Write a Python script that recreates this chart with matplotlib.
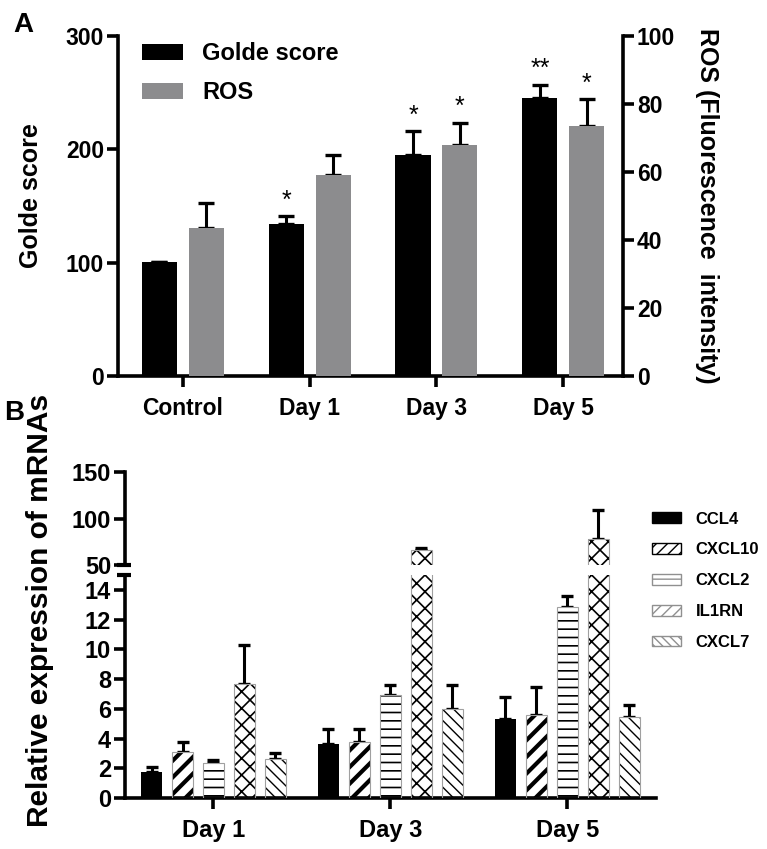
import numpy as np
import matplotlib
matplotlib.use('Agg')
from matplotlib import pyplot as plt
from matplotlib.patches import Patch

plt.rcParams['font.family'] = ['Liberation Sans', 'DejaVu Sans']
plt.rcParams['font.weight'] = 'bold'

# Panel A data
dias_a = ['Control', 'Day 1', 'Day 3', 'Day 5']
golde = [101, 134, 195, 245]
golde_err = [0, 7, 21, 12]
golde_sig = ['', '*', '*', '**']
ros = [43.5, 59, 68, 73.5]
ros_err = [7.5, 6, 6.5, 8]
ros_sig = ['', '', '*', '*']

# Panel B data
dias_b = ['Day 1', 'Day 3', 'Day 5']
genes = ['CCL4', 'CXCL10', 'CXCL2', 'IL1RN', 'CXCL7']
ccl4 = [1.75, 3.65, 5.3]
ccl4_err = [0.33, 0.97, 1.52]
cxcl10 = [3.1, 3.75, 5.6]
cxcl10_err = [0.67, 0.92, 1.86]
cxcl2 = [2.35, 6.95, 12.85]
cxcl2_err = [0.23, 0.65, 0.74]
il1rn = [7.65, 66, 78]
il1rn_err = [2.65, 2, 31]
cxcl7 = [2.6, 6.0, 5.45]
cxcl7_err = [0.45, 1.6, 0.78]

gris = '#8c8c8e'
lw_spine = 2.6

fig = plt.figure(figsize=(7.67, 8.49), dpi=100)

# ---------------- Panel A ----------------
ax = fig.add_axes([0.1538, 0.5571, 0.8123 - 0.1538, 0.4005])
ax2 = ax.twinx()
x = np.arange(len(dias_a))
w = 0.276
off = 0.185
ax.bar(x - off, golde, w, color='black', zorder=2)
ax.errorbar(x - off, golde, yerr=[np.zeros(4), golde_err], fmt='none', ecolor='black',
            elinewidth=2.2, capsize=6, capthick=2.4, zorder=1)
ax2.bar(x + off, ros, w, color=gris, zorder=2)
ax2.errorbar(x + off, ros, yerr=[np.zeros(4), ros_err], fmt='none', ecolor='black',
             elinewidth=2.2, capsize=6, capthick=2.4, zorder=1)
for i in range(4):
    if golde_sig[i]:
        ax.text(x[i] - off, golde[i] + golde_err[i] + 3, golde_sig[i], ha='center', va='bottom',
                fontsize=18, fontweight='normal')
    if ros_sig[i]:
        ax2.text(x[i] + off, ros[i] + ros_err[i] + 1, ros_sig[i], ha='center', va='bottom',
                 fontsize=18, fontweight='normal')

ax.set_xlim(-0.51, 3.47)
ax.set_ylim(0, 300)
ax2.set_ylim(0, 100)
ax.set_yticks([0, 100, 200, 300])
ax2.set_yticks([0, 20, 40, 60, 80, 100])
ax.set_xticks(x)
ax.set_xticklabels(dias_a, fontsize=17, fontweight='bold')
for a in (ax, ax2):
    a.spines['top'].set_visible(False)
    for s in ['left', 'right', 'bottom']:
        a.spines[s].set_linewidth(lw_spine)
    a.tick_params(width=lw_spine, length=8, labelsize=16.5, pad=2)
ax.spines['right'].set_visible(False)
ax2.spines['left'].set_visible(False)
ax2.spines['bottom'].set_visible(False)
ax.tick_params(axis='x', pad=7)
for t in ax.get_yticklabels() + ax2.get_yticklabels():
    t.set_fontweight('bold')
fig.text(0.040, 0.770, 'Golde score', rotation=90, fontsize=18, fontweight='bold',
         ha='center', va='center')
fig.text(0.922, 0.757, 'ROS (Fluorescence  intensity)', rotation=270, fontsize=18,
         fontweight='bold', ha='center', va='center')
leg_a = [Patch(facecolor='black', label='Golde score'), Patch(facecolor=gris, label='ROS')]
ax.legend(handles=leg_a, loc='upper left', bbox_to_anchor=(0.005, 1.045), frameon=False,
          prop={'size': 17, 'weight': 'bold'}, handlelength=1.75, handleheight=0.68,
          labelspacing=0.7, handletextpad=0.8)
fig.text(0.018, 0.962, 'A', fontsize=20, fontweight='bold')

# ---------------- Panel B ----------------
axl = fig.add_axes([0.163, 0.0601, 0.855 - 0.163, 0.3227 - 0.0601])
axu = fig.add_axes([0.163, 0.3345, 0.855 - 0.163, 0.444 - 0.3345])

valores = [ccl4, cxcl10, cxcl2, il1rn, cxcl7]
errores = [ccl4_err, cxcl10_err, cxcl2_err, il1rn_err, cxcl7_err]
tramas = [None, '//', '--', 'xx', '\\\\\\']
hatch_lw = [1, 3.0, 1.2, 1.2, 1.0]
xb = np.arange(len(dias_b))
wb = 0.119
paso = 0.175
for k in range(5):
    pos = xb + (k - 2) * paso
    for a in (axl, axu):
        if tramas[k] is None:
            a.bar(pos, valores[k], wb, color='black', zorder=2)
        else:
            with plt.rc_context({'hatch.linewidth': hatch_lw[k], 'hatch.color': 'black'}):
                a.bar(pos, valores[k], wb, facecolor='white', edgecolor='black',
                      hatch=tramas[k], linewidth=0, zorder=2)
            a.bar(pos, valores[k], wb, fill=False, edgecolor='#a0a0a0', linewidth=0.8, zorder=3)
        a.errorbar(pos, valores[k], yerr=[np.zeros(3), errores[k]], fmt='none', ecolor='black',
                   elinewidth=2.2, capsize=4.5, capthick=2.4, zorder=1)

axl.set_xlim(-0.5, 2.5)
axu.set_xlim(-0.5, 2.5)
axl.set_ylim(0, 15)
axu.set_ylim(50, 150)
axl.set_yticks(range(0, 15, 2))
axu.set_yticks([50, 100, 150])
axl.set_xticks(xb)
axl.set_xticklabels(dias_b, fontsize=18, fontweight='bold')
axu.set_xticks([])
for a in (axl, axu):
    a.spines['top'].set_visible(False)
    a.spines['right'].set_visible(False)
    a.spines['left'].set_linewidth(lw_spine)
    a.spines['bottom'].set_linewidth(lw_spine)
    a.tick_params(width=lw_spine, length=8, labelsize=17, pad=2)
    for t in a.get_yticklabels():
        t.set_fontweight('bold')
axu.spines['bottom'].set_visible(False)
axl.tick_params(axis='x', pad=7)
# break marks
axu.plot([-0.015, 0.012], [0, 0], transform=axu.transAxes, color='black', lw=3,
         clip_on=False, solid_capstyle='butt')
axl.plot([-0.015, 0.012], [1, 1], transform=axl.transAxes, color='black', lw=3,
         clip_on=False, solid_capstyle='butt')

fig.text(0.052, 0.281, 'Relative expression of mRNAs', rotation=90, fontsize=21.5,
         fontweight='bold', ha='center', va='center')
fig.text(0.006, 0.505, 'B', fontsize=20, fontweight='bold')

leg_b = [Patch(facecolor='black', edgecolor='black', label='CCL4'),
         Patch(facecolor='white', edgecolor='black', hatch='///', label='CXCL10'),
         Patch(facecolor='white', edgecolor='#909090', hatch='--', label='CXCL2'),
         Patch(facecolor='white', edgecolor='#909090', hatch='///', label='IL1RN'),
         Patch(facecolor='white', edgecolor='#909090', hatch='\\\\\\\\', label='CXCL7')]
fig.legend(handles=leg_b, loc='upper left', bbox_to_anchor=(0.83, 0.415), frameon=False,
           prop={'size': 12, 'weight': 'bold'}, handlelength=1.75, handleheight=0.6,
           labelspacing=0.95, handletextpad=0.9)

fig.savefig('out.png', dpi=100)
